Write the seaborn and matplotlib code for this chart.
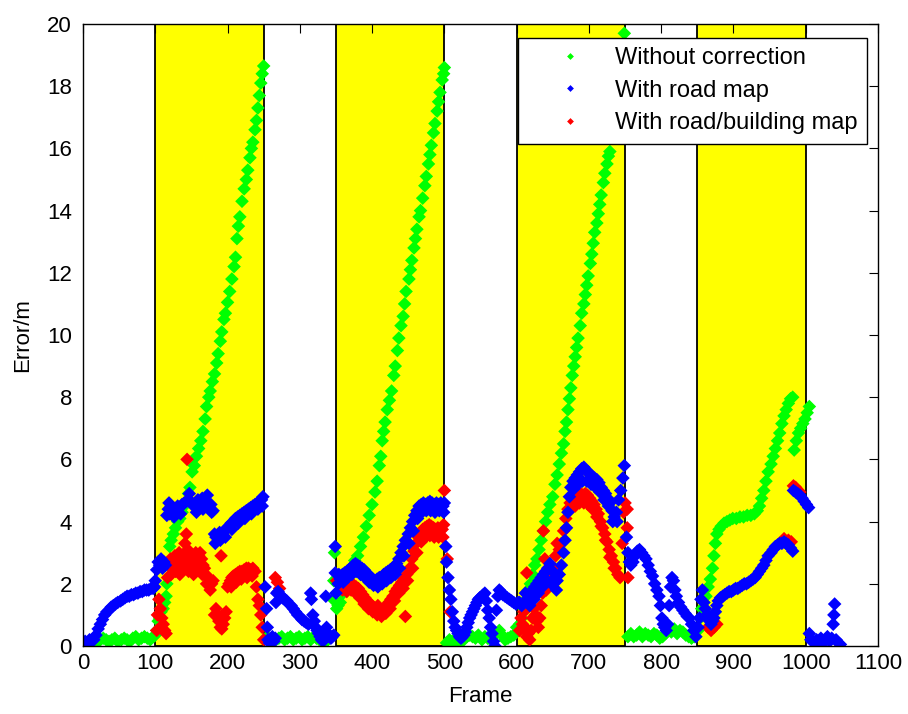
import matplotlib
matplotlib.use("Agg")
import matplotlib.pyplot as plt
import pandas as pd
import seaborn as sns

# ─── DATA (frame, error in m) ───────────────────────────
green_pts = [
    (16, 0.05), (20, 0.15), (24, 0.2), (28, 0.25), (32, 0.2), (36, 0.15), (40, 0.2), (44, 0.25),
    (48, 0.15), (53, 0.2), (57, 0.25), (61, 0.2), (65, 0.15), (69, 0.25), (73, 0.3), (77, 0.2),
    (81, 0.25), (85, 0.3), (89, 0.25), (93, 0.2), (97, 0.3), (100, 0.35),
    (102, 0.5), (104, 0.8), (106, 0.9), (108, 1.1), (111, 1.2), (113, 1.4), (115, 1.6), (116, 2.0),
    (118, 2.6), (120, 3.2), (122, 3.4), (125, 3.6), (128, 3.8), (131, 4.0), (134, 4.1), (137, 4.3),
    (140, 4.5), (143, 4.6), (146, 4.9), (148, 5.1), (151, 5.6), (154, 5.8), (157, 6.1), (160, 6.35),
    (163, 6.6), (166, 6.9), (169, 7.3), (171, 7.7), (174, 8.0), (176, 8.2), (179, 8.5), (182, 8.75),
    (185, 9.1), (187, 9.4), (190, 9.8), (192, 10.1), (195, 10.5), (197, 10.7), (200, 11.05), (203, 11.4),
    (206, 11.8), (209, 12.2), (211, 12.5), (213, 13.1), (215, 13.5), (217, 13.8), (220, 14.3), (223, 14.7),
    (226, 15.0), (228, 15.3), (231, 15.7), (233, 16.0), (235, 16.2), (238, 16.6), (240, 16.9), (242, 17.3),
    (244, 17.7), (246, 18.1), (248, 18.4), (250, 18.65),
    (255, 0.3), (259, 0.2), (263, 0.15), (267, 0.2), (271, 0.25), (275, 0.3), (279, 0.2), (283, 0.25),
    (287, 0.3), (291, 0.2), (295, 0.25), (299, 0.3), (303, 0.2), (307, 0.25), (311, 0.3), (315, 0.2),
    (319, 0.3), (323, 0.25), (327, 0.2), (331, 0.3), (335, 0.15), (339, 0.2), (343, 0.3), (346, 1.5),
    (347, 2.1), (348, 3.0),
    (351, 1.2), (353, 1.3), (356, 1.4), (360, 1.7), (364, 2.0), (368, 2.3), (372, 2.55), (376, 2.75),
    (380, 2.9), (384, 3.2), (388, 3.5), (392, 3.85), (396, 4.2), (400, 4.55), (404, 4.95), (407, 5.3),
    (410, 5.8), (412, 6.1), (414, 6.6), (416, 6.9), (418, 7.2), (421, 7.6), (424, 7.9), (427, 8.2),
    (430, 8.7), (432, 9.0), (435, 9.5), (437, 9.9), (440, 10.3), (443, 10.6), (445, 11.0), (447, 11.4),
    (451, 11.8), (453, 12.1), (455, 12.4), (458, 12.8), (460, 13.1), (462, 13.4), (465, 13.8), (467, 14.0),
    (470, 14.4), (473, 14.8), (475, 15.1), (478, 15.5), (480, 15.8), (482, 16.1), (485, 16.5), (487, 16.8),
    (490, 17.2), (492, 17.5), (494, 17.8), (497, 18.2), (499, 18.4), (500, 18.6),
    (503, 0.1), (507, 0.2), (511, 0.15), (515, 0.2), (519, 0.1), (523, 0.15), (527, 0.2), (531, 0.3),
    (535, 0.35), (539, 0.3), (543, 0.25), (547, 0.35), (552, 0.2), (556, 0.3), (560, 0.25), (564, 0.2),
    (568, 0.3), (572, 0.4), (576, 0.5), (580, 0.35), (584, 0.2), (588, 0.25), (592, 0.3), (596, 0.35),
    (600, 0.6),
    (604, 0.7), (607, 0.9), (610, 1.2), (613, 1.5), (616, 1.8), (619, 2.0), (622, 2.3), (625, 2.6),
    (628, 2.8), (631, 3.1), (634, 3.4), (637, 3.7), (640, 4.0), (643, 4.3), (646, 4.55), (650, 4.8),
    (653, 5.2), (656, 5.5), (659, 5.85), (662, 6.2), (665, 6.5), (667, 6.9), (669, 7.2), (671, 7.6),
    (673, 7.95), (675, 8.3), (677, 8.7), (679, 9.0), (681, 9.3), (683, 9.6), (685, 9.9), (688, 10.3),
    (690, 10.7), (693, 11.0), (695, 11.3), (697, 11.6), (699, 11.9), (702, 12.3), (704, 12.6), (706, 12.95),
    (708, 13.3), (711, 13.6), (713, 13.9), (715, 14.2), (717, 14.5), (720, 14.9), (722, 15.2), (725, 15.5),
    (727, 15.75), (729, 15.9), (732, 16.4), (735, 17.0), (738, 17.6), (741, 18.1), (744, 18.7), (747, 19.2),
    (749, 19.7),
    (754, 0.3), (758, 0.4), (762, 0.3), (766, 0.35), (770, 0.45), (774, 0.3), (778, 0.4), (782, 0.35),
    (786, 0.3), (790, 0.4), (794, 0.35), (798, 0.25), (802, 0.3), (806, 0.4), (810, 0.5), (814, 0.45),
    (818, 0.55), (822, 0.4), (826, 0.5), (830, 0.45), (834, 0.35), (838, 0.3), (842, 0.25), (846, 0.3),
    (851, 0.5),
    (854, 0.9), (856, 1.2), (859, 1.4), (862, 1.6), (865, 1.9), (868, 2.15), (871, 2.5), (873, 2.9),
    (875, 3.3), (877, 3.6), (880, 3.75), (883, 3.85), (887, 3.95), (891, 4.0), (895, 4.05), (899, 4.1),
    (904, 4.1), (909, 4.15), (914, 4.15), (919, 4.2), (924, 4.2), (929, 4.25), (933, 4.35), (936, 4.5),
    (939, 4.75), (942, 5.0), (945, 5.3), (948, 5.6), (952, 5.85), (955, 6.1), (958, 6.35), (961, 6.6),
    (964, 6.85), (967, 7.15), (970, 7.4), (973, 7.6), (976, 7.8), (979, 7.95), (982, 8.0),
    (984, 6.3), (987, 6.6), (990, 6.85), (993, 7.0), (996, 7.15), (999, 7.3), (1002, 7.5), (1005, 7.7),
]

blue_pts = [
    (0, 0.1), (3, 0.15), (6, 0.1), (9, 0.2), (12, 0.15), (15, 0.2), (18, 0.35), (21, 0.55),
    (24, 0.7), (27, 0.85), (30, 1.0), (33, 1.1), (36, 1.15), (39, 1.25), (42, 1.3), (45, 1.35),
    (48, 1.4), (52, 1.45), (55, 1.5), (58, 1.55), (61, 1.6), (64, 1.6), (67, 1.65), (70, 1.65),
    (73, 1.7), (76, 1.7), (79, 1.75), (82, 1.75), (85, 1.8), (88, 1.8), (91, 1.8), (94, 1.85),
    (97, 1.85), (99, 1.9),
    (100, 2.1), (102, 2.45), (104, 2.7), (106, 2.6), (108, 2.8), (110, 2.5), (112, 2.7), (114, 2.6),
    (116, 4.2), (118, 4.4), (120, 4.25), (122, 4.5), (125, 4.35), (128, 4.4), (131, 4.5), (134, 4.45),
    (137, 4.55), (140, 4.6), (143, 4.65), (146, 4.7), (149, 4.65), (153, 4.5), (156, 4.55), (159, 4.7),
    (162, 4.6), (165, 4.75), (168, 4.65), (171, 4.6), (174, 4.5), (177, 4.55), (180, 4.35), (182, 3.6),
    (184, 3.5), (187, 3.45), (190, 3.4), (193, 3.6), (196, 3.7), (199, 3.8), (202, 3.85), (205, 3.95),
    (208, 4.0), (211, 4.1), (214, 4.15), (217, 4.2), (220, 4.25), (223, 4.3), (226, 4.35), (229, 4.4),
    (232, 4.45), (235, 4.5), (238, 4.55), (241, 4.6), (244, 4.65), (247, 4.7), (249, 4.8),
    (119, 4.6), (126, 4.15), (135, 4.25), (147, 4.9), (157, 4.3), (166, 4.4), (172, 4.85), (178, 4.3),
    (183, 3.3), (189, 3.65), (197, 3.5), (206, 3.75), (215, 3.95), (224, 4.1), (233, 4.25), (242, 4.4),
    (248, 4.5),
    (252, 1.9), (254, 1.2), (255, 0.6), (256, 0.2), (258, 0.1), (260, 0.2), (262, 0.3), (264, 0.15),
    (266, 0.25), (267, 1.4), (268, 1.7), (270, 1.75), (273, 1.65), (276, 1.55), (279, 1.5), (282, 1.45),
    (285, 1.35), (288, 1.3), (291, 1.2), (294, 1.1), (297, 1.0), (300, 0.95), (303, 0.85), (306, 0.8),
    (309, 0.75), (312, 0.7), (315, 1.7), (316, 1.5), (318, 1.0), (320, 0.8), (322, 0.6), (324, 0.5),
    (326, 0.4), (328, 0.3), (330, 0.2), (332, 0.15), (334, 0.35), (336, 1.6), (337, 0.6), (339, 0.4),
    (341, 0.3), (343, 0.25), (345, 0.3), (347, 0.35),
    (349, 3.2), (349, 2.35), (350, 1.7), (353, 2.0), (356, 2.15), (359, 2.3), (362, 2.35), (365, 2.4),
    (368, 2.45), (371, 2.5), (374, 2.6), (377, 2.65), (380, 2.6), (383, 2.55), (386, 2.5), (389, 2.45),
    (392, 2.35), (395, 2.3), (398, 2.2), (401, 2.15), (404, 2.1), (407, 2.15), (410, 2.2), (413, 2.2),
    (416, 2.3), (419, 2.35), (422, 2.4), (425, 2.45), (428, 2.5), (431, 2.55), (434, 2.65), (437, 2.8),
    (440, 3.0), (443, 3.2), (446, 3.4), (450, 3.6), (453, 3.8), (456, 4.0), (459, 4.2), (462, 4.35),
    (465, 4.5), (468, 4.55), (471, 4.6), (474, 4.55), (477, 4.6), (480, 4.65), (483, 4.6), (486, 4.55),
    (489, 4.6), (492, 4.55), (495, 4.6), (498, 4.5), (500, 4.6),
    (354, 2.3), (360, 2.05), (366, 2.2), (372, 2.3), (378, 2.4), (384, 2.3), (390, 2.2), (396, 2.05),
    (402, 1.95), (408, 1.9), (414, 2.0), (420, 2.1), (426, 2.2), (432, 2.3), (438, 2.5), (444, 2.9),
    (451, 3.3), (457, 3.7), (463, 4.1), (469, 4.3), (475, 4.35), (481, 4.35), (487, 4.3), (493, 4.35),
    (499, 4.3),
    (502, 3.2), (503, 2.7), (505, 2.2), (507, 1.8), (509, 1.5), (511, 1.1), (513, 0.8), (515, 0.6),
    (517, 0.5), (519, 0.4), (521, 0.3), (523, 0.25), (525, 0.3), (527, 0.35), (529, 0.45), (531, 0.6),
    (533, 0.75), (535, 0.9), (537, 1.0), (539, 1.1), (541, 1.2), (543, 1.3), (545, 1.4), (547, 1.5),
    (549, 1.55), (552, 1.6), (554, 1.65), (556, 1.7), (558, 1.45), (560, 1.15), (562, 0.9), (564, 0.6),
    (566, 0.4), (568, 0.15), (570, 0.0), (572, 1.15), (574, 1.6), (576, 1.8), (578, 1.75), (581, 1.65),
    (584, 1.6), (587, 1.55), (590, 1.5), (593, 1.45), (596, 1.4), (599, 1.35), (602, 1.4),
    (604, 1.4), (607, 1.3), (610, 1.4), (613, 1.45), (616, 1.5), (619, 1.6), (622, 1.8), (625, 1.9),
    (628, 2.0), (631, 2.1), (634, 2.2), (637, 2.3), (640, 2.4), (643, 2.5), (646, 2.65), (650, 2.4),
    (653, 2.2), (656, 2.1), (659, 2.3), (662, 2.6), (665, 3.0), (667, 3.4), (669, 3.8), (671, 4.3),
    (673, 4.8), (675, 5.1), (678, 5.3), (681, 5.4), (684, 5.5), (687, 5.6), (690, 5.7), (693, 5.75),
    (696, 5.65), (699, 5.6), (702, 5.5), (705, 5.45), (708, 5.4), (711, 5.35), (714, 5.25), (717, 5.1),
    (720, 5.0), (723, 4.9), (726, 4.75), (729, 4.6), (732, 4.35), (735, 4.15), (738, 4.3), (741, 4.7),
    (744, 5.0), (747, 5.4), (749, 5.8),
    (612, 1.7), (618, 1.3), (624, 1.5), (630, 1.7), (636, 1.9), (642, 2.1), (648, 2.0), (655, 1.8),
    (679, 5.05), (685, 5.2), (691, 5.3), (697, 5.3), (703, 5.2), (709, 5.1), (715, 4.95), (721, 4.7),
    (727, 4.5), (733, 4.0), (739, 4.0),
    (752, 3.5), (754, 3.0), (756, 2.7), (758, 2.6), (761, 2.7), (764, 2.9), (767, 3.05), (770, 3.1),
    (773, 3.0), (776, 2.9), (779, 2.8), (782, 2.6), (785, 2.4), (788, 2.25), (791, 2.0), (794, 1.8),
    (797, 1.6), (799, 1.3), (801, 0.9), (803, 0.7), (805, 0.6), (807, 0.5), (809, 0.7), (811, 1.3),
    (813, 1.9), (815, 2.2), (817, 2.1), (819, 1.8), (821, 1.6), (824, 1.4), (827, 1.25), (830, 1.15),
    (833, 1.05), (836, 0.95), (839, 0.9), (842, 0.7), (845, 0.5), (848, 0.3), (851, 0.6),
    (853, 0.9), (855, 1.5), (857, 1.8), (859, 1.4), (861, 1.2), (863, 1.0), (865, 0.9), (867, 0.8),
    (869, 0.7), (871, 0.8), (873, 0.9), (875, 1.1), (877, 1.3), (879, 1.45), (882, 1.55), (885, 1.6),
    (888, 1.65), (891, 1.7), (894, 1.75), (897, 1.75), (900, 1.8), (903, 1.85), (906, 1.85), (909, 1.9),
    (912, 1.95), (915, 2.0), (918, 2.0), (921, 2.05), (924, 2.1), (927, 2.15), (930, 2.2), (933, 2.3),
    (936, 2.4), (939, 2.5), (942, 2.6), (945, 2.75), (948, 2.9), (952, 3.0), (955, 3.1), (958, 3.2),
    (961, 3.25), (964, 3.3), (967, 3.3), (970, 3.35), (973, 3.3), (976, 3.25), (979, 3.15), (982, 3.05),
    (983, 5.0), (986, 4.95), (989, 4.9), (992, 4.85), (995, 4.75), (998, 4.65), (1001, 4.55), (1004, 4.45),
    (1005, 0.4), (1007, 0.2), (1009, 0.15), (1012, 0.1), (1015, 0.2), (1018, 0.15), (1021, 0.25), (1024, 0.1),
    (1027, 0.2), (1030, 0.3), (1033, 0.15), (1036, 0.25), (1038, 0.7), (1039, 1.0), (1040, 1.35), (1042, 0.2),
    (1045, 0.1), (1048, 0.05),
]

red_pts = [
    (102, 0.5), (103, 1.0), (105, 1.5), (107, 1.2), (109, 0.9), (111, 0.7), (113, 0.5), (115, 0.4),
    (117, 2.2), (119, 2.6), (121, 2.8), (123, 2.5), (125, 2.7), (127, 2.9), (129, 2.6), (131, 2.8),
    (133, 3.0), (135, 2.7), (137, 2.5), (139, 2.9), (141, 3.3), (143, 3.6), (144, 6.0), (145, 3.1),
    (147, 2.7), (149, 2.9), (152, 2.6), (154, 2.8), (156, 3.0), (158, 2.7), (160, 2.9), (162, 3.0),
    (164, 2.8), (166, 2.6), (168, 2.5), (170, 2.3), (172, 2.2), (174, 1.95), (176, 1.8), (178, 2.0),
    (180, 2.1), (182, 1.0), (184, 1.2), (186, 1.0), (188, 0.8), (190, 0.6), (191, 2.9), (192, 0.55),
    (194, 0.7), (196, 0.9), (198, 1.1), (200, 1.9), (202, 2.0), (204, 2.1), (206, 2.2), (208, 2.25),
    (211, 2.3), (214, 2.35), (217, 2.4), (220, 2.4), (223, 2.45), (226, 2.5), (229, 2.5), (232, 2.45),
    (235, 2.5), (238, 2.4), (240, 1.9), (242, 1.5), (244, 1.3), (246, 1.0), (248, 0.6), (250, 0.2),
    (122, 2.3), (128, 2.4), (134, 2.3), (140, 2.6), (146, 2.4), (153, 2.3), (159, 2.45), (165, 2.3),
    (171, 2.0), (205, 1.9), (212, 2.05), (219, 2.15), (227, 2.2), (234, 2.25),
    (266, 2.2), (269, 2.05), (272, 1.85),
    (351, 2.1), (354, 2.0), (357, 2.05), (360, 2.0), (363, 1.95), (366, 2.0), (369, 2.05), (372, 2.0),
    (375, 1.95), (378, 1.9), (381, 1.85), (384, 1.75), (387, 1.65), (390, 1.55), (393, 1.45), (396, 1.4),
    (399, 1.3), (402, 1.25), (405, 1.2), (408, 1.3), (411, 1.2), (414, 1.15), (417, 1.2), (420, 1.3),
    (423, 1.4), (426, 1.5), (429, 1.6), (432, 1.75), (435, 1.85), (438, 1.95), (441, 2.05), (444, 2.15),
    (446, 0.95), (448, 2.3), (452, 2.5), (455, 2.8), (458, 3.05), (461, 3.3), (464, 3.5), (467, 3.65),
    (470, 3.75), (473, 3.8), (476, 3.85), (479, 3.9), (482, 3.85), (485, 3.8), (488, 3.75), (491, 3.8),
    (494, 3.7), (497, 3.75), (499, 3.9), (500, 5.0),
    (359, 1.8), (365, 1.75), (371, 1.8), (377, 1.7), (383, 1.55), (389, 1.35), (395, 1.2), (401, 1.1),
    (407, 1.0), (413, 0.95), (419, 1.05), (425, 1.2), (431, 1.45), (437, 1.7), (443, 1.85), (449, 2.1),
    (456, 2.5), (462, 3.0), (468, 3.35), (474, 3.5), (480, 3.55), (486, 3.5), (492, 3.5), (498, 3.5),
    (504, 2.8), (508, 1.1),
    (604, 0.5), (606, 0.9), (608, 0.7), (610, 1.1), (612, 0.6), (614, 0.3), (614, 2.35), (616, 0.4),
    (618, 0.2), (620, 0.5), (622, 0.9), (624, 1.2), (626, 1.0), (628, 0.8), (630, 0.6), (632, 0.9),
    (634, 1.3), (636, 1.7), (637, 3.7), (639, 2.8), (641, 1.8), (644, 2.0), (647, 2.2), (651, 2.5),
    (654, 2.9), (656, 3.3), (659, 3.1), (662, 3.3), (665, 3.7), (668, 4.1), (671, 4.4), (674, 4.6),
    (677, 4.7), (680, 4.75), (683, 4.8), (686, 4.85), (689, 4.9), (692, 4.85), (695, 4.9), (698, 4.85),
    (701, 4.75), (704, 4.65), (707, 4.55), (710, 4.4), (713, 4.25), (716, 4.0), (719, 3.8), (722, 3.6),
    (725, 3.35), (728, 3.1), (731, 2.9), (734, 2.7), (737, 2.5), (740, 2.3), (743, 2.2), (746, 3.3),
    (748, 4.3), (750, 4.6),
    (675, 4.4), (681, 4.5), (687, 4.6), (693, 4.6), (699, 4.55), (705, 4.4), (711, 4.15), (717, 3.85),
    (723, 3.4), (729, 2.85), (735, 2.5),
    (753, 4.4), (753, 3.8), (754, 2.2),
    (865, 0.6), (869, 0.5), (873, 0.6), (877, 0.7),
    (970, 3.45), (976, 3.4), (980, 3.35), (983, 5.15), (986, 5.1), (989, 5.0), (992, 4.95),
]

band_start = [100, 350, 600, 850]
band_end = [250, 500, 750, 1000]

series_names = ["Without correction", "With road map", "With road/building map"]
series_colors = ["#00ff00", "#0000ff", "#ff0000"]

x_ticks = list(range(0, 1101, 100))
y_ticks = list(range(0, 21, 2))


def to_frame(points, name):
    return pd.DataFrame({
        "Frame": [p[0] for p in points],
        "Error/m": [p[1] for p in points],
        "series": name,
    })


def main():
    sns.set_theme(style="white")
    plt.rcParams["font.family"] = ["Liberation Sans", "DejaVu Sans"]
    plt.rcParams["text.color"] = "black"
    plt.rcParams["axes.labelcolor"] = "black"

    # draw order: green, red, blue (blue sits on top)
    df = pd.concat([
        to_frame(green_pts, series_names[0]),
        to_frame(red_pts, series_names[2]),
        to_frame(blue_pts, series_names[1]),
    ], ignore_index=True)

    fig = plt.figure(figsize=(9.08, 7.14), dpi=100)
    ax = fig.add_axes([83 / 908, 1 - 646 / 714, 795 / 908, 622 / 714])

    for s, e in zip(band_start, band_end):
        ax.axvspan(s, e, facecolor="#ffff00", edgecolor="black", linewidth=1.3, zorder=0)

    sns.scatterplot(
        data=df, x="Frame", y="Error/m", hue="series",
        hue_order=series_names, palette=dict(zip(series_names, series_colors)),
        marker="D", s=48, linewidth=0, ax=ax, zorder=2, legend=True,
    )

    ax.set_xlim(0, 1100)
    ax.set_ylim(0, 20)
    ax.set_xticks(x_ticks)
    ax.set_yticks(y_ticks)
    ax.tick_params(direction="in", top=True, right=True, length=6.5, width=0.8,
                   labelsize=16, colors="black")
    ax.tick_params(axis="x", pad=5)
    ax.tick_params(axis="y", pad=8)
    ax.set_xlabel("Frame", fontsize=16, labelpad=9, color="black")
    ax.set_ylabel("Error/m", fontsize=16, labelpad=10, color="black")
    for sp in ax.spines.values():
        sp.set_color("black")
        sp.set_linewidth(1.0)
        sp.set_zorder(5)

    handles, labels = ax.get_legend_handles_labels()
    leg = ax.legend(handles, labels, loc="upper right", bbox_to_anchor=(0.986, 0.978),
                    borderaxespad=0, fancybox=False, framealpha=1, edgecolor="black",
                    fontsize=17, markerscale=0.5, handlelength=3.6, handletextpad=0.1,
                    borderpad=0.4, labelspacing=0.45)
    leg.get_frame().set_linewidth(1.0)
    for t in leg.get_texts():
        t.set_color("black")

    fig.savefig("out.png", dpi=100, facecolor="white")


if __name__ == "__main__":
    main()
